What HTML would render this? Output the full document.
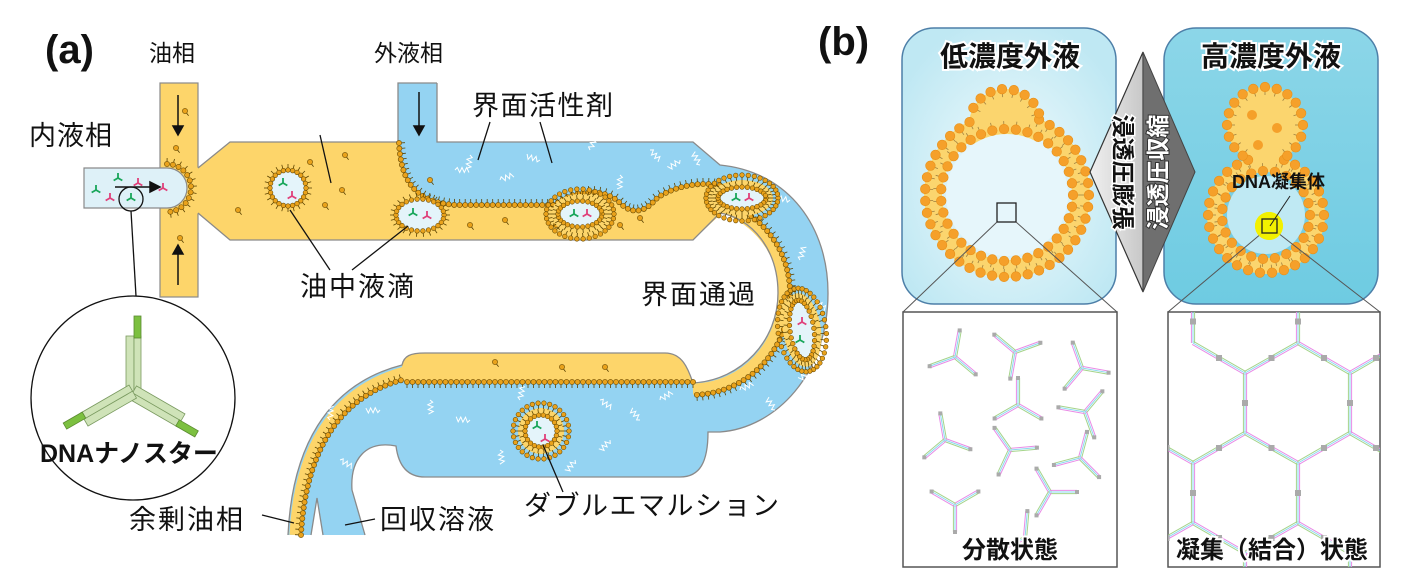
<!DOCTYPE html>
<html><head><meta charset="utf-8">
<style>
html,body{margin:0;padding:0;background:#fff;}
svg{display:block;}
text{font-family:"Liberation Sans","Noto Sans CJK JP",sans-serif;fill:#111;}
.b{font-weight:bold;}
</style></head>
<body>
<svg id="s" width="1402" height="582" viewBox="0 0 1402 582" xmlns="http://www.w3.org/2000/svg">
<defs>
<radialGradient id="lg" cx="0.5" cy="0.55" r="0.6"><stop offset="0" stop-color="#f2fbfd"/><stop offset="1" stop-color="#bfe8f3"/></radialGradient>
<linearGradient id="rg" x1="0" y1="0" x2="0" y2="1"><stop offset="0" stop-color="#8cd6e8"/><stop offset="1" stop-color="#6ecbe2"/></linearGradient>
<linearGradient id="dg1" x1="0" y1="0" x2="1" y2="0"><stop offset="0" stop-color="#f0f0f0"/><stop offset="1" stop-color="#c8c8c8"/></linearGradient>
<clipPath id="cl"><rect x="903" y="312" width="214" height="255"/></clipPath>
<clipPath id="cr"><rect x="1168" y="312" width="212" height="255"/></clipPath>
</defs>

<text x="45" y="63" class="b" font-size="40">(a)</text>
<text x="149" y="61" font-size="23">油相</text>
<text x="374" y="61" font-size="23">外液相</text>
<text x="29" y="145" font-size="27" letter-spacing="1">内液相</text>

<path fill="#94d3f2" d="M398,83 L437,83 L437,142 L693,142 L720,165 C790,172 828,228 828,293 C828,375 775,428 720,432 L708,432 C708,462 700,477 680,477 L425,477 C405,477 398,462 396,446 C365,440 350,460 352,490 L365,535 L323,535 L317,498 L311,535 L288,535 C292,450 325,385 402,365 C404,356 410,353 425,353 L665,353 C682,353 688,368 693,383 C742,380 778,340 778,293 C778,250 752,218 720,213 L693,240 L398,240 Z"/>
<rect x="160" y="83" width="38" height="214" fill="#fdd56a" stroke="#8a8a8a" stroke-width="1.2"/>
<path fill="#fdd56a" d="M197,168 L230,142 L399,142 C401,185 418,202 455,205 L555,205 C575,188 605,188 620,203 C632,215 645,212 655,200 C668,188 700,180 722,186 L722,213 L693,240 L230,240 L197,213 Z"/>
<path fill="none" stroke="#fdd56a" stroke-width="11" d="M722,207 C757,220 784,250 784,293 C784,345 745,388 693,389"/>
<path fill="#fdd56a" d="M402,365 C404,356 410,353 425,353 L665,353 C682,353 688,368 693,383 L693,381 L402,381 Z"/>
<path fill="none" stroke="#fdd56a" stroke-width="11" d="M295,535 C299,455 330,392 405,372"/>
<path fill="none" stroke="#8a8a8a" stroke-width="1.3" d="M437,83 L437,142 L693,142 L720,165 C790,172 828,228 828,293 C828,375 775,428 720,432 L708,432 C708,462 700,477 680,477 L425,477 C405,477 398,462 396,446 C365,440 350,460 352,490 L365,535 M323,535 L317,498 L311,535 M288,535 C292,450 325,385 402,365 C404,356 410,353 425,353 L665,353 C682,353 688,368 693,383 C742,380 778,340 778,293 C778,250 752,218 720,213 L693,240 L230,240 L198,213 M198,168 L230,142 L398,142 L398,83 L437,83"/>
<path d="M84,168 L167,168 A20,20 0 0 1 167,208 L84,208 Z" fill="#def1f8" stroke="#8a8a8a" stroke-width="1.2"/>

<g id="membranes"></g>
<g id="drops"></g>

<g stroke="#111" stroke-width="1.5" fill="#111">
<line x1="178" y1="95" x2="178" y2="128"/><path d="M173,126 L183,126 L178,135 Z"/>
<line x1="178" y1="285" x2="178" y2="252"/><path d="M173,254 L183,254 L178,245 Z"/>
<line x1="115" y1="187" x2="152" y2="187"/><path d="M150,182 L150,192 L160,187 Z"/>
<line x1="419" y1="92" x2="419" y2="128"/><path d="M414,126 L424,126 L419,135 Z"/>
</g>

<text x="472" y="115" font-size="27" letter-spacing="1.5">界面活性剤</text>
<text x="300" y="296" font-size="27" letter-spacing="2">油中液滴</text>
<text x="641" y="304" font-size="27" letter-spacing="2">界面通過</text>
<text x="129" y="529" font-size="27" letter-spacing="2">余剰油相</text>
<text x="380" y="529" font-size="27" letter-spacing="2">回収溶液</text>
<text x="524" y="515" font-size="27" letter-spacing="1.5">ダブルエマルション</text>
<g stroke="#111" stroke-width="1.3" fill="none">
<line x1="490" y1="122" x2="478" y2="160"/>
<line x1="540" y1="122" x2="552" y2="163"/>
<line x1="320" y1="135" x2="331" y2="183"/>
<line x1="330" y1="270" x2="290" y2="210"/>
<line x1="352" y1="270" x2="408" y2="226"/>
<line x1="262" y1="515" x2="294" y2="523"/>
<line x1="375" y1="519" x2="345" y2="525"/>
<line x1="563" y1="492" x2="543" y2="445"/>
<circle cx="131" cy="199" r="12"/>
<line x1="131" y1="211" x2="136" y2="296"/>
<circle cx="133" cy="398" r="102"/>
</g>
<g transform="translate(133,392)">
<g id="arm"><rect x="-7" y="-56" width="8" height="56" fill="#cfe3b8" stroke="#7a9a60" stroke-width="0.8"/><rect x="1" y="-56" width="7" height="56" fill="#cfe3b8" stroke="#7a9a60" stroke-width="0.8"/><rect x="1" y="-76" width="7" height="22" fill="#7cc040" stroke="#5a8a30" stroke-width="0.8"/></g>
<use href="#arm" transform="rotate(120)"/>
<use href="#arm" transform="rotate(240)"/>
</g>
<text x="40" y="462" class="b" font-size="25">DNAナノスター</text>

<text x="818" y="55" class="b" font-size="40">(b)</text>
<rect x="902" y="28" width="214" height="276" rx="32" fill="url(#lg)" stroke="#4d7fa8" stroke-width="1.5"/>
<rect x="1164" y="28" width="214" height="276" rx="32" fill="url(#rg)" stroke="#4d7fa8" stroke-width="1.5"/>
<g id="lipo"></g>

<path d="M1143,52 L1143,292 L1090,172 Z" fill="url(#dg1)" stroke="#333" stroke-width="1.2"/>
<path d="M1143,52 L1143,292 L1195,172 Z" fill="#6f6f6f" stroke="#444" stroke-width="1"/>
<text transform="translate(1115,172) rotate(90)" text-anchor="middle" class="b" font-size="23" style="fill:#111;stroke:#fff;stroke-width:3;paint-order:stroke">浸透圧膨張</text>
<text transform="translate(1166,172) rotate(-90)" text-anchor="middle" class="b" font-size="23" style="fill:#fff;stroke:#333;stroke-width:2;paint-order:stroke">浸透圧収縮</text>

<text x="1010" y="66" text-anchor="middle" class="b" font-size="28" style="stroke:#fff;stroke-width:4;paint-order:stroke">低濃度外液</text>
<text x="1271" y="66" text-anchor="middle" class="b" font-size="28" style="stroke:#fff;stroke-width:4;paint-order:stroke">高濃度外液</text>

<rect x="903" y="312" width="214" height="255" fill="#fff" stroke="#555" stroke-width="1.5"/>
<rect x="1168" y="312" width="212" height="255" fill="#fff" stroke="#555" stroke-width="1.5"/>
<g stroke="#555" stroke-width="1" fill="none">
<rect x="997" y="203" width="19" height="19" stroke="#222" stroke-width="1.3"/>
<line x1="997" y1="222" x2="903" y2="312"/><line x1="1016" y1="222" x2="1117" y2="312"/>
<line x1="1262" y1="233" x2="1168" y2="312"/><line x1="1278" y1="233" x2="1380" y2="312"/>
</g>
<circle cx="1269" cy="226" r="14" fill="#f2f000" opacity="0.9"/>
<rect x="1262" y="219" width="15" height="14" fill="none" stroke="#222" stroke-width="1.3"/>
<line x1="1270" y1="226" x2="1290" y2="196" stroke="#222" stroke-width="1"/>
<text x="1232" y="188" class="b" font-size="18">DNA凝集体</text>

<g id="stars" clip-path="url(#cl)"></g>
<g id="hex" clip-path="url(#cr)"></g>
<text x="1010" y="558" text-anchor="middle" class="b" font-size="24" style="stroke:#fff;stroke-width:4;paint-order:stroke">分散状態</text>
<text x="1272" y="558" text-anchor="middle" class="b" font-size="24" style="stroke:#fff;stroke-width:4;paint-order:stroke">凝集（結合）状態</text>
</svg>
<script>
var NS="http://www.w3.org/2000/svg";
function el(t,a,p){var e=document.createElementNS(NS,t);for(var k in a)e.setAttribute(k,a[k]);(p||document.getElementById('s')).appendChild(e);return e;}
var mem=document.getElementById('membranes'),drops=document.getElementById('drops');
function bead(x,y,nx,ny,g,r){el('line',{x1:x,y1:y,x2:x+nx*6,y2:y+ny*6,stroke:'#5a4200','stroke-width':0.8},g);el('circle',{cx:x,cy:y,r:r||2.6,fill:'#e9a21c',stroke:'#6a4a00','stroke-width':0.6},g);}
function along(d,sp,sign){var p=el('path',{d:d,fill:'none'},mem);var L=p.getTotalLength();for(var s=0;s<L;s+=sp){var a=p.getPointAtLength(s),b=p.getPointAtLength(Math.min(L,s+1));var tx=b.x-a.x,ty=b.y-a.y,n=Math.hypot(tx,ty)||1;bead(a.x,a.y,-ty/n*sign,tx/n*sign,mem);}}
along("M399,143 C401,185 418,202 455,205 L555,205 C575,188 605,188 620,203 C632,215 645,212 655,200 C668,188 700,180 722,186",5.5,-1);
along("M722,201 C762,214 790,250 790,293 C790,350 748,394 693,395",5.5,-1);
along("M693,382 L402,382",5.5,-1);
along("M301,535 C305,460 334,398 402,380",5.5,-1);
along("M167,164 A24,24 0 0 1 167,212",6,-1);
function ring(cx,cy,rx,ry,n,rot,inner,outer){var g=el('g',{transform:'translate('+cx+','+cy+') rotate('+(rot||0)+')'},drops);
 if(outer)el('ellipse',{cx:0,cy:0,rx:rx+7,ry:ry+7,fill:'#fdd56a'},g);
 el('ellipse',{cx:0,cy:0,rx:rx,ry:ry,fill:'#e4f4fa'},g);
 for(var i=0;i<n;i++){var t=i/n*2*Math.PI,x=Math.cos(t)*rx,y=Math.sin(t)*ry;bead(x,y,Math.cos(t),Math.sin(t),g,2.3);}
 if(outer)for(var i=0;i<n+8;i++){var t=i/(n+8)*2*Math.PI,x=Math.cos(t)*(rx+12),y=Math.sin(t)*(ry+12);bead(x,y,-Math.cos(t),-Math.sin(t),g,2.3);}
 return g;}
function ystar(x,y,c,g,s){s=s||5;for(var k=0;k<3;k++){var a=-Math.PI/2+k*2*Math.PI/3;el('line',{x1:x,y1:y,x2:x+Math.cos(a)*s,y2:y+Math.sin(a)*s,stroke:c,'stroke-width':1.8},g||drops);}}
ring(288,188,18,18,24);ring(420,215,24,16,26);ring(580,214,22,13,26,0,1,1);ring(742,198,24,11,28,0,1,1);ring(802,330,12,30,30,-8,1,1);ring(541,431,16,16,22,0,1,1);
ystar(283,183,'#19a65a');ystar(292,196,'#e0407a');ystar(413,213,'#19a65a');ystar(427,216,'#e0407a');ystar(574,214,'#19a65a');ystar(587,214,'#e0407a');ystar(736,198,'#19a65a');ystar(749,198,'#e0407a');ystar(802,322,'#e0407a');ystar(800,340,'#19a65a');ystar(537,426,'#19a65a');ystar(545,439,'#e0407a');
ystar(96,190,'#19a65a');ystar(118,178,'#19a65a');ystar(110,198,'#e0407a');ystar(138,183,'#e0407a');ystar(131,198,'#19a65a');ystar(163,188,'#e0407a');
[[185,111],[176,148],[180,238],[238,210],[310,162],[345,155],[342,190],[325,205],[430,180],[470,225],[505,220],[556,225],[620,225],[640,218],[605,367],[562,367],[495,362]].forEach(function(p){bead(p[0],p[1],0.6,0.8,mem,2.6);});
function sq(x,y,l,a){var d='M'+x+','+y;for(var i=1;i<=6;i++){var px=x+Math.cos(a)*l*i/6+Math.sin(a)*(i%2?2.5:-2.5),py=y+Math.sin(a)*l*i/6-Math.cos(a)*(i%2?2.5:-2.5);d+=' L'+px.toFixed(1)+','+py.toFixed(1);}el('path',{d:d,fill:'none',stroke:'#fff','stroke-width':1},mem);}
[[455,170],[470,155],[540,160],[590,150],[650,150],[680,160],[700,165],[500,180],[620,175],[790,200],[800,260],[815,300],[810,370],[775,410],[740,390],[430,400],[470,420],[520,400],[600,400],[610,440],[640,420],[660,400],[500,450],[380,410],[330,420],[340,460],[575,460]].forEach(function(p,i){sq(p[0],p[1],14,(i*1.7)%6);});
var lipo=document.getElementById('lipo');
function lb(x,y,a,inward){el('line',{x1:x,y1:y,x2:x-Math.cos(a)*8*inward,y2:y-Math.sin(a)*8*inward,stroke:'#a08040','stroke-width':0.8},lipo);el('circle',{cx:x,cy:y,r:4.8,fill:'#f5a02a',stroke:'#e8901a','stroke-width':0.6},lipo);}
function lip(cx,cy,ro,ri,capx,capy,capr,full,inc){
 el('circle',{cx:capx,cy:capy,r:capr,fill:'#fbd56e'},lipo);
 el('circle',{cx:cx,cy:cy,r:(ro+ri)/2,fill:'none',stroke:'#fbd56e','stroke-width':ro-ri+2},lipo);
 el('circle',{cx:cx,cy:cy,r:ri-5,fill:inc},lipo);
 var n=Math.round(2*Math.PI*ro/12);for(var i=0;i<n;i++){var a=i/n*2*Math.PI;var x=cx+Math.cos(a)*ro,y=cy+Math.sin(a)*ro;if(Math.hypot(x-capx,y-capy)<capr-2)continue;lb(x,y,a,1);}
 n=Math.round(2*Math.PI*ri/12);for(var i=0;i<n;i++){var a=i/n*2*Math.PI;lb(cx+Math.cos(a)*ri,cy+Math.sin(a)*ri,a,-1);}
 n=Math.round(2*Math.PI*capr/12);for(var i=0;i<n;i++){var a=i/n*2*Math.PI;var x=capx+Math.cos(a)*capr,y=capy+Math.sin(a)*capr;if(Math.hypot(x-cx,y-cy)<ro+3)continue;if(!full&&y>capy+2)continue;lb(x,y,a,1);}
}
lip(1007,195,82,66,1005,125,36,false,'#e6f6fb');
lip(1266,215,58,44,1265,125,38,true,'#bfe9f3');
el('circle',{cx:1252,cy:115,r:5,fill:'#f5a02a'},lipo);el('circle',{cx:1277,cy:128,r:5,fill:'#f5a02a'},lipo);el('circle',{cx:1258,cy:145,r:5,fill:'#f5a02a'},lipo);
el('circle',{cx:1269,cy:226,r:14,fill:'#f2f000'},lipo);
function tri(g,x1,y1,x2,y2){var dx=x2-x1,dy=y2-y1,n=Math.hypot(dx,dy),ox=-dy/n*1.6,oy=dx/n*1.6;var cs=['#e98be6','#8ad9ef','#a5d48a'];for(var k=0;k<3;k++){el('line',{x1:x1+ox*(k-1),y1:y1+oy*(k-1),x2:x2+ox*(k-1),y2:y2+oy*(k-1),stroke:cs[k],'stroke-width':1},g);}}
var st=document.getElementById('stars');
[[955,357,10],[1015,352,70],[1082,368,-20],[1018,405,0],[1085,412,40],[945,440,-10],[1010,450,85],[1080,458,15],[955,505,60],[1050,492,-30],[1025,538,5]].forEach(function(s){for(var k=0;k<3;k++){var a=(s[2]-90+k*120)*Math.PI/180;var x2=s[0]+Math.cos(a)*27,y2=s[1]+Math.sin(a)*27;tri(st,s[0],s[1],x2,y2);el('rect',{x:x2-2,y:y2-2,width:4,height:4,fill:'#aaa'},st);}});
var hx=document.getElementById('hex');
var E=[[1298,343,1298,300],[1298,343,1245,373],[1298,343,1350,373],[1245,373,1193,343],[1350,373,1402,343],[1193,343,1193,300],[1245,373,1245,433],[1350,373,1350,433],[1245,433,1193,463],[1245,433,1298,463],[1350,433,1298,463],[1350,433,1402,463],[1193,463,1140,433],[1193,463,1193,523],[1298,463,1298,523],[1193,523,1245,553],[1298,523,1245,553],[1298,523,1350,553],[1193,523,1140,553],[1245,553,1245,600],[1350,553,1350,600]];
E.forEach(function(e){tri(hx,e[0],e[1],e[2],e[3]);el('rect',{x:(e[0]+e[2])/2-3,y:(e[1]+e[3])/2-3,width:6,height:6,fill:'#aaa'},hx);});
</script>
</body></html>
